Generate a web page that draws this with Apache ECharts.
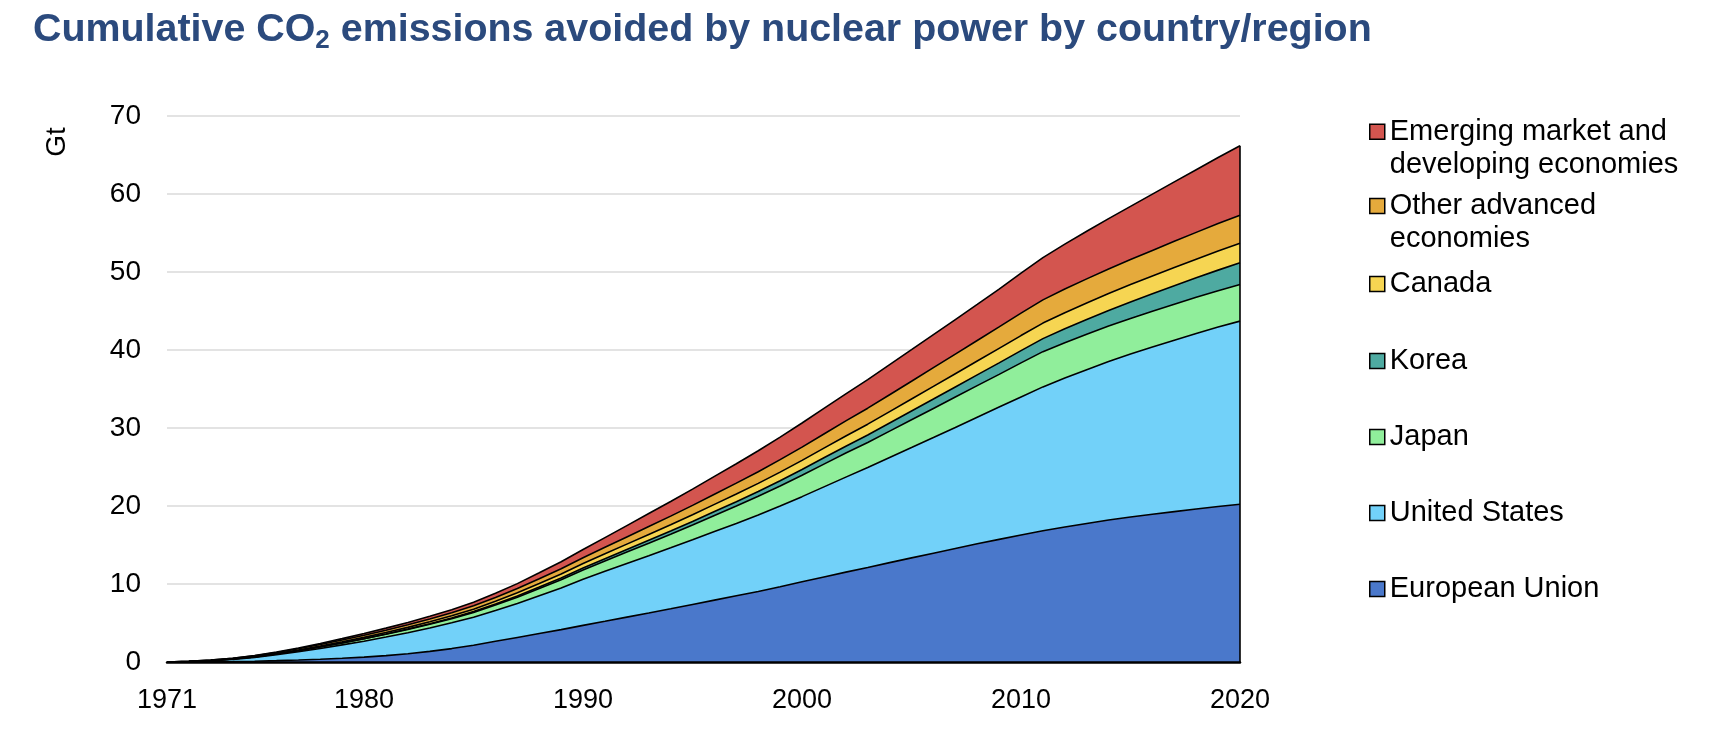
<!DOCTYPE html>
<html>
<head>
<meta charset="utf-8">
<script src="https://cdn.jsdelivr.net/npm/echarts@6/dist/echarts.min.js"></script>
<style>
html,body{margin:0;padding:0;background:#fff;}
#chart{width:1718px;height:745px;}
</style>
</head>
<body>
<div id="chart"></div>
<script>
const years = ['1971','1972','1973','1974','1975','1976','1977','1978','1979','1980',
'1981','1982','1983','1984','1985','1986','1987','1988','1989','1990',
'1991','1992','1993','1994','1995','1996','1997','1998','1999','2000',
'2001','2002','2003','2004','2005','2006','2007','2008','2009','2010',
'2011','2012','2013','2014','2015','2016','2017','2018','2019','2020'];
const tickYears = ['1971','1980','1990','2000','2010','2020'];
const yTicks = [0,10,20,30,40,50,60,70];

const europeanUnion = [0.00,0.01,0.03,0.06,0.10,0.17,0.26,0.36,0.48,0.62,
0.82,1.06,1.36,1.72,2.15,2.65,3.15,3.65,4.15,4.70,
5.22,5.75,6.28,6.82,7.37,7.93,8.49,9.05,9.65,10.28,
10.90,11.52,12.12,12.74,13.35,13.95,14.55,15.15,15.72,16.28,
16.82,17.30,17.76,18.20,18.58,18.94,19.28,19.62,19.94,20.22];
const unitedStates = [0.00,0.05,0.13,0.28,0.48,0.75,1.05,1.38,1.72,2.05,
2.38,2.70,3.00,3.30,3.60,3.95,4.35,4.85,5.35,5.90,
6.40,6.88,7.35,7.82,8.30,8.80,9.28,9.80,10.35,10.92,
11.55,12.18,12.82,13.48,14.14,14.82,15.52,16.24,16.96,17.70,
18.45,19.10,19.72,20.32,20.90,21.45,21.98,22.50,23.00,23.48];
const japan = [0.00,0.01,0.02,0.04,0.07,0.10,0.14,0.19,0.24,0.30,
0.36,0.42,0.48,0.54,0.61,0.70,0.80,0.92,1.05,1.20,
1.33,1.46,1.60,1.74,1.89,2.05,2.22,2.39,2.56,2.74,
2.92,3.09,3.21,3.38,3.56,3.74,3.90,4.04,4.20,4.37,
4.52,4.54,4.55,4.55,4.56,4.58,4.60,4.63,4.66,4.70];
const korea = [0,0,0,0,0,0,0,0.005,0.01,0.02,
0.03,0.04,0.06,0.08,0.10,0.13,0.16,0.19,0.22,0.26,
0.30,0.34,0.38,0.42,0.46,0.51,0.56,0.62,0.68,0.74,
0.81,0.88,0.96,1.04,1.12,1.20,1.29,1.38,1.47,1.57,
1.67,1.78,1.89,2.00,2.12,2.24,2.37,2.50,2.64,2.78];
const canada = [0.00,0.01,0.02,0.03,0.05,0.07,0.09,0.11,0.14,0.17,
0.19,0.22,0.25,0.28,0.31,0.36,0.41,0.46,0.51,0.56,
0.62,0.68,0.74,0.80,0.86,0.92,0.98,1.04,1.10,1.17,
1.24,1.31,1.38,1.46,1.54,1.62,1.70,1.78,1.86,1.93,
1.99,2.05,2.11,2.17,2.23,2.28,2.34,2.39,2.45,2.50];
const otherAdvanced = [0.00,0.02,0.04,0.06,0.09,0.12,0.16,0.20,0.24,0.27,
0.30,0.33,0.36,0.39,0.43,0.48,0.54,0.61,0.68,0.75,
0.83,0.92,1.01,1.10,1.20,1.30,1.40,1.50,1.60,1.70,
1.81,1.93,2.05,2.17,2.29,2.41,2.52,2.63,2.75,2.88,
2.98,3.04,3.09,3.14,3.20,3.28,3.36,3.44,3.52,3.60];
const emerging = [0.00,0.00,0.01,0.02,0.04,0.06,0.09,0.12,0.17,0.22,
0.26,0.30,0.35,0.40,0.46,0.54,0.64,0.76,0.90,1.05,
1.25,1.46,1.67,1.88,2.09,2.29,2.49,2.69,2.89,3.09,
3.28,3.47,3.66,3.85,4.04,4.23,4.42,4.62,4.84,5.12,
5.42,5.76,6.10,6.46,6.83,7.22,7.62,8.03,8.46,8.90];

const seriesNames = ['European Union','United States','Japan','Korea','Canada','Other advanced economies','Emerging market and developing economies'];
const legendLabels = {
  'Emerging market and developing economies': '\nEmerging market and\ndeveloping economies',
  'Other advanced economies': '\nOther advanced\neconomies'
};
const seriesData = [europeanUnion, unitedStates, japan, korea, canada, otherAdvanced, emerging];
const colors = ['#4a78cb','#72d1f9','#90ee9b','#4eaaa1','#f6d552','#e5aa3c','#d3554f'];

const FONT = "'Liberation Sans', Arial, Helvetica, sans-serif";
const lastIdx = years.length - 1;
const total2020 = seriesData.reduce((s, arr) => s + arr[lastIdx], 0);

const series = seriesNames.map((name, i) => {
  const s = {
    name: name,
    type: 'line',
    stack: 'total',
    data: seriesData[i],
    showSymbol: false,
    symbol: 'none',
    smooth: false,
    color: colors[i],
    lineStyle: { color: '#000', width: 1.6 },
    areaStyle: { color: colors[i], opacity: 1 },
    itemStyle: { color: colors[i] },
    emphasis: { disabled: true },
    z: 2
  };
  if (i === seriesNames.length - 1) {
    s.markLine = {
      silent: true,
      symbol: 'none',
      label: { show: false },
      lineStyle: { color: '#000', width: 1.6, type: 'solid' },
      data: [[ { coord: [years[lastIdx], 0] }, { coord: [years[lastIdx], total2020] } ]]
    };
  }
  return s;
});

// legend layout (top to bottom)
const legendOrder = [
  { name: 'Emerging market and developing economies', center: 131.7, two: true },
  { name: 'Other advanced economies', center: 206, two: true },
  { name: 'Canada', center: 284 },
  { name: 'Korea', center: 361 },
  { name: 'Japan', center: 437 },
  { name: 'United States', center: 513 },
  { name: 'European Union', center: 589 }
];
const LH = 33;
const legends = legendOrder.map(item => ({
  data: [item.name],
  orient: 'vertical',
  left: 1369,
  top: item.two ? item.center - 1.5 * LH : item.center - LH / 2,
  padding: 0,
  icon: 'rect',
  itemWidth: 15,
  itemHeight: 15,
  itemStyle: { borderColor: '#000', borderWidth: 1.5 },
  formatter: n => legendLabels[n] || n,
  textStyle: { fontFamily: FONT, fontSize: 29, color: '#000', lineHeight: LH },
  selectedMode: false
}));

const chart = echarts.init(document.getElementById('chart'), null, { renderer: 'canvas' });
chart.setOption({
  animation: false,
  backgroundColor: '#fff',
  title: {
    left: 33,
    top: 7,
    padding: 0,
    text: '{t|Cumulative CO}{s|2}{t| emissions avoided by nuclear power by country/region}',
    textStyle: {
      rich: {
        t: { fontFamily: FONT, fontSize: 39.4, fontWeight: 'bold', color: '#2b4a7d', lineHeight: 47 },
        s: { fontFamily: FONT, fontSize: 26, fontWeight: 'bold', color: '#2b4a7d', lineHeight: 29, verticalAlign: 'bottom' }
      }
    }
  },
  legend: legends,
  grid: { left: 167, right: 478, top: 116, bottom: 83, containLabel: false },
  xAxis: {
    type: 'category',
    data: years,
    boundaryGap: false,
    axisLine: { show: true, lineStyle: { color: '#000', width: 2.5 } },
    axisTick: { show: false },
    axisLabel: {
      interval: (idx, val) => tickYears.indexOf(val) !== -1,
      fontFamily: FONT, fontSize: 27, color: '#000', margin: 25,
      showMinLabel: true, showMaxLabel: true
    },
    splitLine: { show: false },
    z: 3
  },
  yAxis: {
    type: 'value',
    min: yTicks[0],
    max: yTicks[yTicks.length - 1],
    interval: 10,
    axisLine: { show: false },
    axisTick: { show: false },
    axisLabel: { fontFamily: FONT, fontSize: 28, color: '#000', margin: 26 },
    splitLine: { show: true, lineStyle: { color: '#dadada', width: 1.5 } }
  },
  graphic: [{
    type: 'text',
    x: 57, y: 142,
    rotation: Math.PI / 2,
    style: { text: 'Gt', font: "28px 'Liberation Sans', Arial, sans-serif", fill: '#000', align: 'center', verticalAlign: 'middle' }
  }],
  series: series
});
</script>
</body>
</html>
